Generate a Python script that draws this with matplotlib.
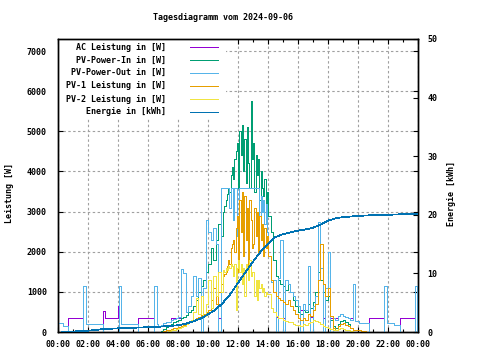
import numpy as np
import matplotlib
matplotlib.use("Agg")
import matplotlib.pyplot as plt
from matplotlib.lines import Line2D
from matplotlib.patches import Rectangle
from matplotlib.font_manager import FontProperties

# ---------------- data ----------------
title = "Tagesdiagramm vom 2024-09-06"
labels = ["AC Leistung in [W]", "PV-Power-In in [W]", "PV-Power-Out in [W]",
          "PV-1 Leistung in [W]", "PV-2 Leistung in [W]", "Energie in [kWh]"]
colors = ["#9400d3", "#009e73", "#56b4e9", "#e69f00", "#f0e442", "#0072b2"]
xtick_labels = ["00:00", "02:00", "04:00", "06:00", "08:00", "10:00", "12:00",
                "14:00", "16:00", "18:00", "20:00", "22:00", "00:00"]

# sample times (hours): 10 min 06:40-10:50, 5 min 11:00-13:55, 10 min 14:00-19:40
t_am = np.arange(6 + 40/60, 10 + 50/60 + 1e-6, 10/60)
t_mid = np.arange(11.0, 13 + 55/60 + 1e-6, 5/60)
t_pm = np.arange(14.0, 19 + 40/60 + 1e-6, 10/60)

pv_in_am = [0, 30, 80, 120, 170, 210, 240, 270, 300, 340, 380, 430, 500, 560,
            650, 800, 1000, 1150, 1300, 1500, 1700, 2100, 1800, 2300, 2700, 2400]
pv_in_mid = [3000, 3150, 3300, 3450, 3600, 3500, 3900, 4100, 3800, 4300, 4500, 4700,
             3600, 5000, 4400, 5150, 4000, 4800, 3700, 5100, 4200, 3600, 5750, 4300,
             4700, 3500, 4400, 3900, 4300, 3300, 4000, 3600, 3400, 3800, 3100, 3500]
pv_in_pm = [2900, 2500, 1800, 1400, 1300, 1200, 1150, 1050, 1200, 1000, 800, 650,
            500, 450, 550, 500, 700, 600, 750, 1000, 1500, 1300, 1000, 800, 900,
            300, 150, 100, 200, 280, 300, 250, 200, 100, 0]

pv_out_am = [150, 170, 220, 240, 260, 300, 320, 340, 370, 1580, 1480, 500, 650, 900,
             1400, 900, 1350, 0, 1100, 2800, 2500, 2300, 2600, 2200, 0, 3600]
pv_out_mid = [3600, 3600, 3600, 3600, 3600, 3100, 3600, 3600, 2800, 3600, 3600, 2400,
              2600, 3600, 3600, 3600, 3600, 3600, 3600, 3600, 3600, 3600, 3600, 3600,
              3600, 3600, 3600, 3600, 3600, 2900, 3400, 3000, 3300, 2700, 3200, 2500]
pv_out_pm = [1900, 1250, 1300, 0, 1350, 2300, 0, 1300, 1200, 1000, 900, 800,
             650, 0, 700, 550, 1650, 0, 650, 900, 2750, 1600, 0, 1100, 2000,
             0, 350, 300, 400, 450, 400, 380, 350, 300, 1200]

ac_am = [150, 170, 220, 240, 260, 360, 360, 360, 360, 1580, 1480, 500, 650, 900,
         1400, 900, 1350, 360, 1100, 2800, 2500, 2300, 2600, 2200, 360, 3600]
ac_mid = [3600, 3600, 3600, 3600, 3600, 3100, 3600, 3600, 2800, 3600, 3600, 2400,
          2600, 3600, 3600, 3600, 3600, 3600, 3600, 3600, 3600, 3600, 3600, 3600,
          3600, 3600, 3600, 3600, 3600, 2900, 3400, 3000, 3300, 2700, 3200, 2500]
ac_pm = [1900, 1250, 1300, 380, 1350, 2300, 360, 1300, 1200, 1000, 900, 800,
         650, 550, 700, 550, 1650, 380, 650, 900, 2750, 1600, 360, 1100, 2000,
         360, 360, 360, 400, 450, 400, 380, 360, 360, 1200]

pv1_am = [0, 10, 20, 40, 60, 70, 90, 110, 120, 150, 180, 220, 250, 280,
          300, 350, 380, 420, 450, 500, 550, 800, 1100, 700, 1000, 1200]
pv1_mid = [1400, 1450, 1500, 1650, 1800, 1700, 2100, 2200, 2300, 2000, 2600, 2900,
           1500, 3300, 2500, 3500, 1900, 3400, 2300, 3100, 1400, 3300, 2800, 2100,
           2200, 3100, 2400, 3000, 2000, 2900, 2300, 2700, 1900, 2600, 2100, 2400]
pv1_pm = [1900, 1300, 1000, 900, 850, 800, 750, 700, 800, 650, 550, 450,
          350, 300, 350, 300, 450, 400, 550, 700, 1300, 2200, 1200, 900, 1100,
          400, 100, 50, 150, 200, 220, 180, 150, 100, 60]

pv2_am = [0, 0, 0, 10, 20, 40, 60, 80, 100, 120, 150, 200, 250, 300,
          500, 850, 450, 900, 400, 700, 1300, 600, 1400, 900, 1500, 1000]
pv2_mid = [1550, 1500, 1600, 1550, 1650, 1600, 1700, 1650, 1400, 1700, 550, 1600,
           1800, 1500, 1700, 1200, 1600, 900, 1700, 1600, 1300, 1800, 1400, 1500,
           1500, 900, 1300, 800, 1300, 1100, 1200, 1000, 1100, 900, 1000, 950]
pv2_pm = [950, 600, 500, 400, 350, 350, 300, 280, 250, 250, 200, 180,
          170, 160, 200, 180, 220, 250, 300, 280, 250, 200, 150, 120, 100,
          80, 60, 50, 80, 100, 80, 60, 40, 30, 0]

# night breakpoints (hours, watts)
pv_out_morn_t = [0.0, 0.35, 0.65, 1.69, 1.84, 3.02, 4.09, 4.22, 5.36, 6.42, 6.58]
pv_out_morn_v = [230, 150, 0, 1150, 210, 0, 1150, 210, 0, 1150, 200]
ac_morn_t = [0.0, 0.35, 0.65, 1.69, 1.84, 3.02, 3.10, 4.00, 4.09, 4.22, 5.36, 6.42, 6.58]
ac_morn_v = [230, 150, 360, 1150, 210, 520, 360, 650, 1150, 210, 360, 1150, 200]
pv_out_eve_t = [19.80, 20.09, 20.75, 21.75, 21.90, 22.42, 22.80, 23.82, 23.95, 24.0]
pv_out_eve_v = [270, 230, 0, 1150, 230, 180, 0, 1150, 0, 0]
ac_eve_t = [19.80, 20.09, 20.75, 21.75, 21.90, 22.42, 22.80, 23.82, 23.95, 24.0]
ac_eve_v = [270, 230, 360, 1150, 230, 180, 360, 1150, 360, 360]
pv_in_eve_t = [19.8, 24.0]
pv_in_eve_v = [0, 0]
pv1_eve_t = [19.83, 20.17, 20.5]
pv1_eve_v = [50, 30, 0]
pv2_eve_t = [19.8, 20.5]
pv2_eve_v = [0, 0]

energy_t = [0.27, 1.75, 2.5, 3.0, 4.5, 6.4, 7.3, 8, 8.5, 9, 9.5, 10, 10.5, 11, 11.5,
            12, 12.5, 13, 13.5, 14, 14.5, 15, 15.5, 16, 16.5, 17, 17.5, 18, 18.5,
            19, 19.5, 20, 21, 22, 23, 24]
energy_v = [0, 0.17, 0.34, 0.5, 0.68, 0.85, 1.0, 1.15, 1.4, 1.8, 2.3, 3.0, 3.8, 5.0,
            6.5, 8.4, 10.2, 12.0, 13.7, 15.1, 16.2, 16.7, 17.0, 17.3, 17.5, 17.8,
            18.3, 19.0, 19.4, 19.6, 19.7, 19.8, 19.95, 20.0, 20.1, 20.1]

# ---------------- figure ----------------
W, H = 480, 360
FONT = dict(family="DejaVu Sans Mono", size=6, weight="bold")
fig = plt.figure(figsize=(4.8, 3.6), dpi=100)
ax = fig.add_axes([58 / W, 1 - 332 / H, 360 / W, 293 / H])
ax2 = ax.twinx()


def fx(px):
    return px / W


def fy(py):
    return 1 - py / H


t_day = np.r_[t_am, t_mid, t_pm]
lw = 0.55
series = [
    (np.r_[ac_morn_t, t_day, ac_eve_t], np.r_[ac_morn_v, ac_am, ac_mid, ac_pm, ac_eve_v]),
    (np.r_[t_day, pv_in_eve_t], np.r_[pv_in_am, pv_in_mid, pv_in_pm, pv_in_eve_v]),
    (np.r_[pv_out_morn_t, t_day, pv_out_eve_t],
     np.r_[pv_out_morn_v, pv_out_am, pv_out_mid, pv_out_pm, pv_out_eve_v]),
    (np.r_[t_day, pv1_eve_t], np.r_[pv1_am, pv1_mid, pv1_pm, pv1_eve_v]),
    (np.r_[t_day, pv2_eve_t], np.r_[pv2_am, pv2_mid, pv2_pm, pv2_eve_v]),
]
for i, (t, v) in enumerate(series):
    ax.step(t, v, where="post", color=colors[i], lw=lw, zorder=3 + i, antialiased=False)

ax2.plot(energy_t, energy_v, color=colors[5], lw=lw, zorder=10, antialiased=False)

ax.set_xlim(0, 24)
ax.set_ylim(0, 7300)
ax2.set_ylim(0, 50)

ax.set_xticks(np.arange(0, 25, 2))
ax.set_xticklabels(xtick_labels)
ax.set_xticks(np.arange(1, 24, 2), minor=True)
ax.set_yticks(np.arange(0, 7001, 1000))
ax2.set_yticks(np.arange(0, 51, 10))

ax.tick_params(axis="both", which="major", direction="in", length=3.6, width=0.8,
               top=True, right=True, labelright=False)
ax.tick_params(axis="x", which="minor", direction="in", length=2, width=0.8, top=True)
ax.tick_params(axis="y", pad=8)
ax.tick_params(axis="x", pad=6)
ax2.tick_params(axis="y", direction="in", length=3.6, width=0.8, pad=7)
fp = FontProperties(**FONT)
for lab in ax.get_xticklabels() + ax.get_yticklabels() + ax2.get_yticklabels():
    lab.set_fontproperties(fp)

ax.set_axisbelow(True)
ax.grid(True, which="major", color="#a0a0a0", lw=0.8, linestyle=(0, (2.2, 2.2)))
for a in (ax, ax2):
    for s in a.spines.values():
        s.set_linewidth(1.0)
        s.set_color("black")

# opaque key box
ax.add_patch(Rectangle((fx(58), fy(118)), fx(226) - fx(58), fy(39) - fy(118),
                       transform=fig.transFigure, facecolor="white", edgecolor="none",
                       zorder=1))
rows = [47.3, 60.3, 72.7, 86, 99, 112]
for lab, col, ry in zip(labels, colors, rows):
    fig.text(fx(166), fy(ry), lab, ha="right", va="center", **FONT)
    fig.lines.append(Line2D([fx(190), fx(218)], [fy(ry), fy(ry)], color=col, lw=lw,
                            transform=fig.transFigure, antialiased=False))

fig.text(fx(223), fy(18), title, ha="center", va="center", **FONT)
fig.text(fx(10), fy(193), "Leistung [W]", rotation=90, ha="center", va="center", **FONT)
fig.text(fx(452), fy(194), "Energie [kWh]", rotation=90, ha="center", va="center", **FONT)

fig.savefig("out.png", dpi=100)
